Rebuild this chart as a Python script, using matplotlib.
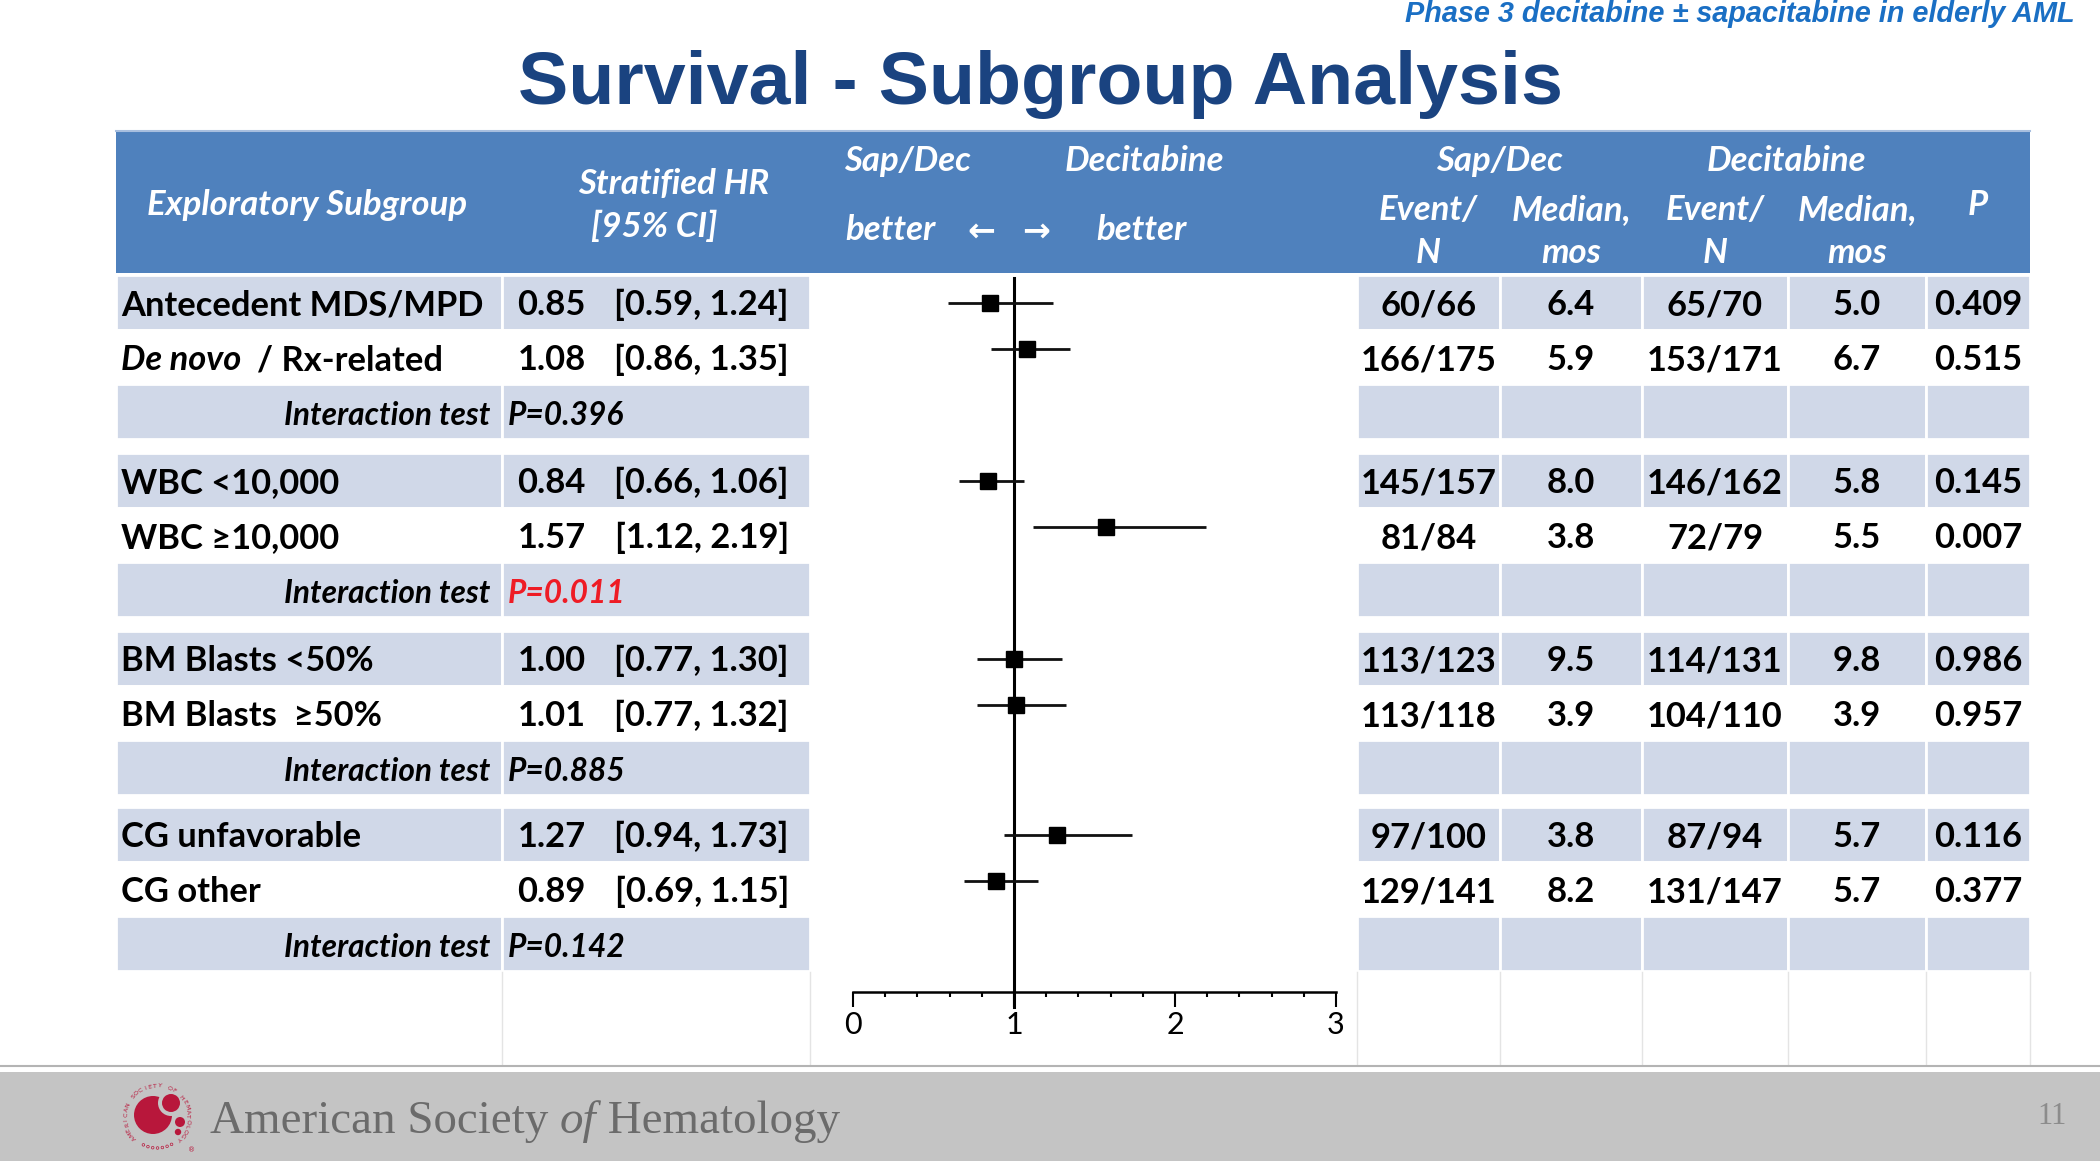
import matplotlib.pyplot as plt
from matplotlib.patches import Rectangle, Circle
from matplotlib.ticker import MultipleLocator
import numpy as np

# data
subgroups = ["Antecedent MDS/MPD", "De novo / Rx-related", "WBC <10,000", "WBC \u226510,000",
             "BM Blasts <50%", "BM Blasts  \u226550%", "CG unfavorable", "CG other"]
hr = [0.85, 1.08, 0.84, 1.57, 1.00, 1.01, 1.27, 0.89]
ci_lo = [0.59, 0.86, 0.66, 1.12, 0.77, 0.77, 0.94, 0.69]
ci_hi = [1.24, 1.35, 1.06, 2.19, 1.30, 1.32, 1.73, 1.15]
sapdec_events = ["60/66", "166/175", "145/157", "81/84", "113/123", "113/118", "97/100", "129/141"]
sapdec_median = [6.4, 5.9, 8.0, 3.8, 9.5, 3.9, 3.8, 8.2]
dec_events = ["65/70", "153/171", "146/162", "72/79", "114/131", "104/110", "87/94", "131/147"]
dec_median = [5.0, 6.7, 5.8, 5.5, 9.8, 3.9, 5.7, 5.7]
p_values = ["0.409", "0.515", "0.145", "0.007", "0.986", "0.957", "0.116", "0.377"]
interaction_p = ["0.396", "0.011", "0.885", "0.142"]
interaction_sig = [False, True, False, False]

HEAD = '#4F81BD'
BAND = '#D0D8E8'
FONT = ['Lato', 'DejaVu Sans']

fig = plt.figure(figsize=(21, 11.61), dpi=100)
ax = fig.add_axes([0, 0, 1, 1])
ax.set_xlim(0, 2100)
ax.set_ylim(1161, 0)
ax.axis('off')

# layout (pixels)
group_top = [275, 453, 631, 807]
row_h = 54.7
left_cols = [116, 502, 810]
right_cols = [1357, 1500, 1642, 1788, 1926, 2030]

# title + subtitle
ax.text(2075, 22, "Phase 3 decitabine \u00b1 sapacitabine in elderly AML", ha='right', va='baseline',
        fontsize=20.8, fontweight='bold', fontstyle='italic', color='#1a6fc4', family='Liberation Sans')
ax.text(1040, 104, "Survival - Subgroup Analysis", ha='center', va='baseline',
        fontsize=54.3, fontweight='bold', color='#1a4380', family='Liberation Sans')

# header band
ax.add_patch(Rectangle((116, 130), 2030 - 116, 143, facecolor=HEAD, edgecolor='none'))
ax.plot([116, 2030], [131, 131], color='#a8bfdf', lw=1.5)
hkw = dict(color='white', fontweight='bold', fontstyle='italic', fontsize=25, family=FONT, va='center')
ax.text(147, 205, "Exploratory Subgroup", ha='left', **hkw)
ax.text(674, 184, "Stratified HR", ha='center', **hkw)
ax.text(654, 227, "[95% CI]", ha='center', **hkw)
ax.text(907, 161, "Sap/Dec", ha='center', **hkw)
ax.text(1144, 161, "Decitabine", ha='center', **hkw)
ax.text(890, 230, "better", ha='center', **hkw)
ax.text(1141, 230, "better", ha='center', **hkw)
ax.text(981, 231, "\u2190", ha='center', color='white', fontsize=24, fontweight='bold',
        family=['DejaVu Sans'], va='center')
ax.text(1036, 231, "\u2192", ha='center', color='white', fontsize=24, fontweight='bold',
        family=['DejaVu Sans'], va='center')
rc = [(right_cols[i] + right_cols[i + 1]) / 2 for i in range(5)]
ax.text((rc[0] + rc[1]) / 2, 161, "Sap/Dec", ha='center', **hkw)
ax.text((rc[2] + rc[3]) / 2, 161, "Decitabine", ha='center', **hkw)
for c in (rc[0], rc[2]):
    ax.text(c, 210, "Event/", ha='center', **hkw)
    ax.text(c, 253, "N", ha='center', **hkw)
for c in (rc[1], rc[3]):
    ax.text(c, 210, "Median,", ha='center', **hkw)
    ax.text(c, 253, "mos", ha='center', **hkw)
ax.text(rc[4], 205, "P", ha='center', **hkw)


def cells(y, shaded):
    fc = BAND if shaded else 'white'
    for cols in (left_cols, right_cols):
        for a, b in zip(cols[:-1], cols[1:]):
            ax.add_patch(Rectangle((a, y), b - a, row_h, facecolor=fc, edgecolor='white', lw=2))


bkw = dict(fontsize=24.8, fontweight='bold', family=FONT, va='center', color='black')
fig.canvas.draw()
renderer = fig.canvas.get_renderer()

for i, name in enumerate(subgroups):
    g, r = divmod(i, 2)
    y = group_top[g] + r * row_h
    cells(y, r == 0)
    yc = y + row_h / 2 + 3
    if " / " in name:
        first, rest = name.split(" / ")
        t = ax.text(121, yc, first, ha='left', fontstyle='italic', **bkw)
        x_end = t.get_window_extent(renderer).x1
        ax.text(x_end + 16, yc, "/ " + rest, ha='left', **bkw)
    else:
        ax.text(121, yc, name, ha='left', **bkw)
    ax.text(586, yc, f"{hr[i]:.2f}", ha='right', **bkw)
    ax.text(789, yc, f"[{ci_lo[i]:.2f}, {ci_hi[i]:.2f}]", ha='right', **bkw)
    vals = [sapdec_events[i], f"{sapdec_median[i]:.1f}", dec_events[i], f"{dec_median[i]:.1f}", p_values[i]]
    for c, v in zip(rc, vals):
        ax.text(c, yc, v, ha='center', **bkw)

for g, p in enumerate(interaction_p):
    y = group_top[g] + 2 * row_h
    cells(y, True)
    yc = y + row_h / 2 + 4
    ax.text(490, yc, "Interaction test", ha='right', fontstyle='italic',
            **{**bkw, 'fontsize': 22.8})
    ax.text(508, yc, "P=" + p, ha='left', fontstyle='italic',
            **{**bkw, 'fontsize': 22.8, 'color': '#ee1c25' if interaction_sig[g] else 'black'})

# blank bottom rows: light grid lines
for x in left_cols[1:] + right_cols:
    ax.plot([x, x], [972, 1065], color='#e4e4e4', lw=1)
ax.plot([0, 2100], [1066, 1066], color='#b4b4b4', lw=1.5)

# forest plot
fx0, fx1 = 853, 1336
axf = fig.add_axes([fx0 / 2100, 0, (fx1 - fx0) / 2100, 1])
axf.set_xlim(0, 3)
axf.set_ylim(1161, 0)
axf.patch.set_alpha(0)
for s in ('top', 'left', 'right'):
    axf.spines[s].set_visible(False)
axf.spines['bottom'].set_position(('data', 992))
axf.spines['bottom'].set_linewidth(1.8)
axf.set_yticks([])
axf.set_xticks([0, 1, 2, 3])
axf.xaxis.set_minor_locator(MultipleLocator(0.2))
axf.tick_params(axis='x', which='major', direction='out', length=11, width=1.5, pad=3,
                labelsize=22)
axf.tick_params(axis='x', which='minor', direction='out', length=3.6, width=1.5)
for lab in axf.get_xticklabels():
    lab.set_family(FONT)
axf.plot([1, 1], [278, 1007], color='black', lw=2.2, clip_on=False)
for i in range(len(hr)):
    g, r = divmod(i, 2)
    ym = group_top[g] + 28 + 46 * r
    axf.plot([ci_lo[i], ci_hi[i]], [ym, ym], color='#111111', lw=2, solid_capstyle='butt')
    axf.plot(hr[i], ym, marker='s', ms=11, color='black', mec='black')

# footer
ax.add_patch(Rectangle((0, 1072), 2100, 89, facecolor='#c4c4c4', edgecolor='none'))
fkw = dict(fontsize=33.8, family='Liberation Serif', color='#6b6b6b', va='baseline')
t1 = ax.text(210, 1133, "American Society ", ha='left', **fkw)
x1 = t1.get_window_extent(renderer).x1
t2 = ax.text(x1, 1133, "of", ha='left', fontstyle='italic', **fkw)
x2 = t2.get_window_extent(renderer).x1
ax.text(x2, 1133, " Hematology", ha='left', **fkw)
ax.text(2052, 1116, "11", ha='center', va='center', fontsize=22, family='Liberation Serif', color='#8c8c8c')

# logo
red = '#b8173b'
ax.add_patch(Circle((153, 1115), 19, facecolor=red, edgecolor='none'))
ax.add_patch(Circle((171, 1103), 13, facecolor='#c4c4c4', edgecolor='none'))
ax.add_patch(Circle((171, 1103), 9, facecolor=red, edgecolor='none'))
ax.add_patch(Circle((180, 1122), 5, facecolor=red, edgecolor='none'))
ax.add_patch(Circle((178, 1132), 3.2, facecolor=red, edgecolor='none'))
ring = "AMERICAN SOCIETY OF HEMATOLOGY"
for k, ch in enumerate(ring):
    th = np.deg2rad(222 - k * 9.2)
    ax.text(157 + 31 * np.cos(th), 1117 - 31 * np.sin(th), ch, ha='center', va='center',
            rotation=np.rad2deg(th) - 90, fontsize=4.5, color=red, family='DejaVu Sans')
for k in range(7):
    th = np.deg2rad(-62 - k * 9)
    ax.add_patch(Circle((157 + 31 * np.cos(th), 1117 - 31 * np.sin(th)), 1.3, facecolor='none',
                        edgecolor=red, lw=0.5))
ax.text(192, 1150, "\u00ae", fontsize=5, color=red, ha='center', va='center')

fig.savefig('out.png', dpi=100)
